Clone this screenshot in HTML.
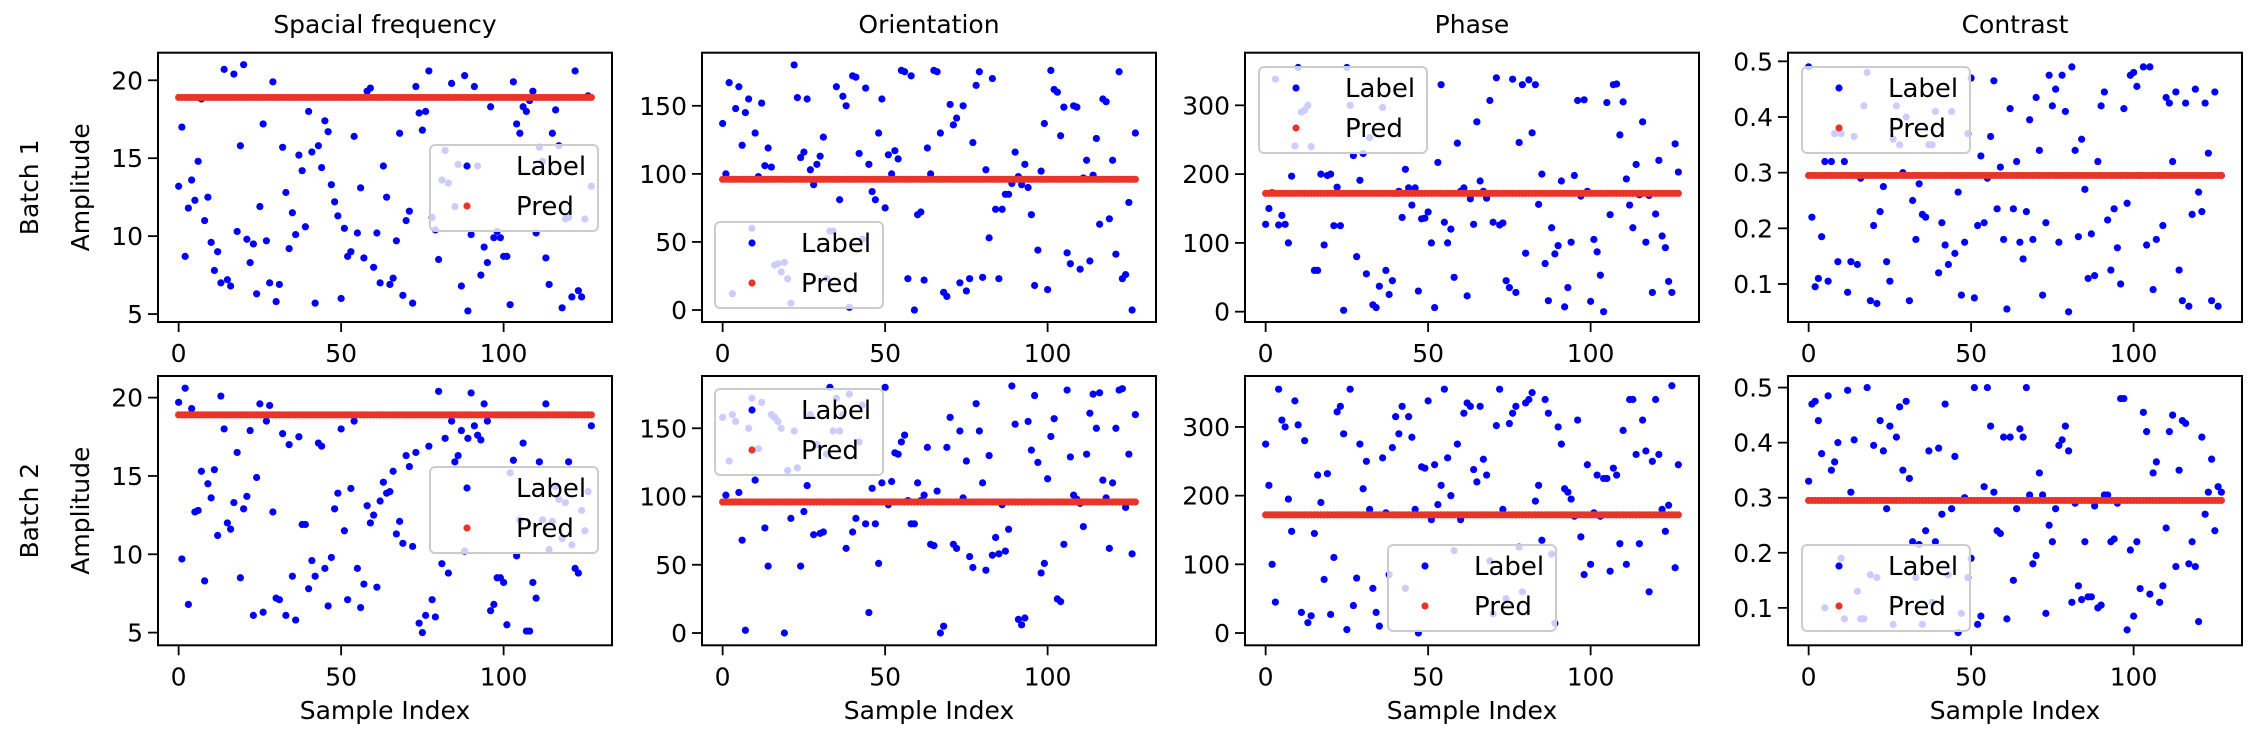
<!DOCTYPE html>
<html><head><meta charset="utf-8">
<style>
html,body{margin:0;padding:0;background:#fff;}
svg{display:block;font-family:"DejaVu Sans","Liberation Sans",sans-serif;}
</style></head>
<body>
<svg id="fig" width="2260" height="742" viewBox="0 0 2260 742" xmlns="http://www.w3.org/2000/svg"></svg>
<script>
const titles = ["Spacial frequency","Orientation","Phase","Contrast"];
const rowLabels = ["Batch 1","Batch 2"];
const xTicks = [0,50,100];
const sfTicks = [5,10,15,20];
const oriTicks = [0,50,100,150];
const phaseTicks = [0,100,200,300];
const conTicks = [0.1,0.2,0.3,0.4,0.5];
const predValues = [18.9,96,172,0.295];

const sf1 = [13.2,17.0,8.7,11.8,13.6,12.3,14.8,18.8,11.0,12.5,9.6,7.8,9.0,7.0,20.7,7.2,6.8,20.4,10.3,15.8,21.0,9.8,8.3,9.5,6.3,11.9,17.2,9.7,7.0,19.9,5.8,6.9,15.7,12.8,9.2,11.5,10.1,15.2,14.2,10.6,18.0,15.4,5.7,15.8,14.4,17.4,16.7,13.3,12.2,11.3,6.0,10.5,8.7,9.0,16.4,10.2,13.1,8.6,19.3,19.5,8.0,10.2,7.0,14.5,12.5,6.9,7.3,9.7,16.6,6.2,11.0,11.6,5.7,19.6,17.9,16.8,18.0,20.6,11.2,10.4,8.5,13.6,15.5,13.4,19.8,11.9,14.6,6.8,20.3,5.2,10.1,19.6,14.5,7.5,9.3,8.3,18.3,9.9,10.3,9.9,8.7,8.7,5.6,19.9,17.2,16.6,18.3,18.0,18.7,19.3,10.2,15.7,14.8,8.6,6.9,16.6,18.1,15.8,5.4,11.1,11.2,6.1,20.6,6.5,6.1,11.1,19.0,13.2];
const ori1 = [137,100,167,12,148,164,121,145,155,60,130,98,152,106,119,105,33,34,28,35,23,5,180,156,112,116,155,103,92,107,113,127,23,58,58,164,81,157,150,2,172,171,115,52,163,107,87,81,130,155,75,114,100,117,111,176,175,23,172,0,70,72,22,119,100,176,175,130,13,10,151,136,141,20,150,14,23,123,165,175,24,103,53,170,74,23,74,85,85,93,116,98,92,107,90,70,18,44,102,137,15,176,162,160,128,149,42,34,150,149,30,97,110,36,99,126,63,155,153,67,110,41,175,23,26,79,0,130];
const phase1 = [127,150,173,338,126,140,127,100,197,241,355,290,293,300,240,60,60,200,97,198,200,125,181,125,2,355,300,227,80,191,230,55,253,10,6,37,297,60,25,45,172,175,137,207,180,155,180,30,135,136,145,100,6,217,330,130,100,120,50,245,175,180,23,164,127,276,190,175,165,307,130,340,126,129,45,35,338,28,246,330,85,337,260,330,156,200,70,16,122,84,96,190,7,35,101,198,307,168,308,175,15,105,87,53,0,304,141,330,331,257,305,193,155,122,214,170,276,101,169,28,142,220,110,93,44,28,244,203];
const con1 = [0.49,0.22,0.095,0.11,0.185,0.32,0.105,0.32,0.37,0.14,0.37,0.32,0.085,0.14,0.365,0.135,0.29,0.42,0.48,0.07,0.205,0.065,0.23,0.275,0.14,0.105,0.36,0.42,0.35,0.30,0.40,0.07,0.25,0.18,0.28,0.225,0.22,0.35,0.35,0.41,0.12,0.21,0.17,0.135,0.41,0.155,0.265,0.08,0.175,0.37,0.47,0.075,0.205,0.33,0.21,0.29,0.365,0.465,0.235,0.31,0.18,0.055,0.415,0.235,0.32,0.175,0.145,0.23,0.395,0.18,0.435,0.34,0.08,0.21,0.475,0.42,0.45,0.175,0.475,0.41,0.05,0.49,0.34,0.185,0.36,0.27,0.11,0.19,0.115,0.32,0.42,0.445,0.215,0.125,0.235,0.165,0.10,0.415,0.245,0.475,0.48,0.455,0.295,0.49,0.17,0.49,0.09,0.18,0.295,0.205,0.435,0.425,0.32,0.445,0.125,0.07,0.425,0.06,0.225,0.45,0.265,0.23,0.425,0.335,0.07,0.445,0.06,0.295];
const sf2 = [19.7,9.7,20.6,6.8,19.3,12.7,12.8,15.3,8.3,14.5,13.6,15.4,11.2,20.1,18.0,12.0,11.6,13.3,16.5,8.5,12.9,13.7,17.9,6.1,14.9,19.6,6.3,18.5,19.5,12.7,7.2,7.1,17.7,6.1,17.0,8.6,5.8,17.5,11.9,11.9,7.8,9.6,8.6,17.1,16.9,9.1,6.7,9.8,12.9,13.9,18.0,11.5,7.1,14.2,18.5,9.1,6.6,8.1,13.1,12.0,12.5,7.9,13.4,14.6,13.9,14.0,15.3,11.3,12.1,10.7,16.3,15.6,10.5,16.5,5.6,5.0,6.1,16.9,7.1,6.0,20.4,9.4,17.4,8.8,18.5,15.9,16.3,17.9,10.2,17.4,20.3,18.2,17.6,17.3,19.6,18.5,6.4,6.8,8.5,8.5,8.2,5.5,15.2,16.0,9.9,12.2,17.1,5.1,5.1,8.2,7.2,15.9,12.2,19.6,10.3,12.1,14.3,13.5,11.0,13.3,15.9,10.6,9.1,8.8,12.8,11.5,14.0,18.2];
const ori2 = [158,101,126,160,155,103,68,2,150,172,112,135,169,77,49,160,158,155,150,0,119,84,148,121,49,89,108,160,72,138,73,74,131,180,148,172,148,160,62,175,74,84,140,167,80,15,106,80,51,110,180,94,111,132,131,140,145,97,80,80,110,97,101,136,65,64,104,0,5,136,158,65,62,148,99,126,56,48,168,148,110,46,130,57,70,58,94,60,76,181,153,10,6,11,155,134,174,125,44,51,113,144,157,25,23,65,178,129,101,98,95,78,131,161,175,150,176,112,99,62,110,150,178,179,92,131,58,160];
const phase2 = [275,215,100,45,355,310,300,195,148,338,303,30,280,15,25,145,230,190,78,232,27,110,322,330,290,5,355,40,80,275,210,250,180,65,30,10,255,175,85,270,315,290,330,65,315,285,180,0,242,240,338,165,245,187,215,355,255,200,120,275,165,320,335,330,238,220,330,253,230,105,28,302,355,180,50,305,320,330,125,60,335,340,350,192,215,135,340,320,115,14,300,275,210,205,195,170,310,140,85,245,100,175,230,170,225,225,90,240,230,130,295,100,340,340,260,130,310,265,60,250,340,260,180,148,186,360,95,245];
const con2 = [0.33,0.47,0.475,0.44,0.38,0.1,0.485,0.35,0.365,0.4,0.19,0.08,0.495,0.31,0.405,0.13,0.08,0.08,0.5,0.16,0.395,0.155,0.44,0.385,0.28,0.43,0.07,0.41,0.465,0.35,0.475,0.335,0.22,0.155,0.215,0.07,0.24,0.385,0.11,0.22,0.39,0.27,0.47,0.16,0.28,0.375,0.055,0.09,0.3,0.155,0.19,0.5,0.07,0.085,0.32,0.5,0.43,0.31,0.24,0.235,0.41,0.08,0.41,0.15,0.28,0.425,0.41,0.5,0.305,0.18,0.195,0.345,0.305,0.09,0.25,0.22,0.28,0.395,0.405,0.43,0.385,0.11,0.29,0.14,0.115,0.22,0.12,0.12,0.285,0.1,0.105,0.305,0.305,0.22,0.225,0.29,0.48,0.48,0.06,0.205,0.085,0.22,0.135,0.455,0.42,0.125,0.345,0.365,0.11,0.14,0.245,0.42,0.45,0.175,0.35,0.44,0.435,0.18,0.22,0.175,0.075,0.41,0.27,0.31,0.37,0.24,0.32,0.31];

const NS = "http://www.w3.org/2000/svg";
const svg = document.getElementById("fig");
function mk(tag, attrs, parent){
  const e = document.createElementNS(NS, tag);
  for (const k in attrs) e.setAttribute(k, attrs[k]);
  (parent||svg).appendChild(e);
  return e;
}
const N = 128;
const colX = [158,702,1245,1788];
const W = 454;
const rowTop = [52.7,376];
const H = 269.3;
const panels = [
 [{data:sf1,ticks:sfTicks,dom:[4.49,21.77],fmt:v=>String(v),leg:[430,145]},
  {data:ori1,ticks:oriTicks,dom:[-8.8,189],fmt:v=>String(v),leg:[715,222]},
  {data:phase1,ticks:phaseTicks,dom:[-15,376.5],fmt:v=>String(v),leg:[1259,67]},
  {data:con1,ticks:conTicks,dom:[0.0317,0.5155],fmt:v=>v.toFixed(1),leg:[1802,67]}],
 [{data:sf2,ticks:sfTicks,dom:[4.19,21.38],fmt:v=>String(v),leg:[430,467]},
  {data:ori2,ticks:oriTicks,dom:[-9,188.3],fmt:v=>String(v),leg:[715,389]},
  {data:phase2,ticks:phaseTicks,dom:[-17.9,374.2],fmt:v=>String(v),leg:[1388,545]},
  {data:con2,ticks:conTicks,dom:[0.032,0.521],fmt:v=>v.toFixed(1),leg:[1802,545]}]
];
const BLUE = "#0000ff", RED = "#e8352a";

for (let r=0;r<2;r++){
  for (let c=0;c<4;c++){
    const p = panels[r][c];
    const x0 = colX[c], y0 = rowTop[r];
    const g = mk("g",{});
    
    
    const xs = v => x0 + (v - (-0.05*(N-1))) / (1.1*(N-1)) * W;
    const ys = v => y0 + H - (v - p.dom[0]) / (p.dom[1]-p.dom[0]) * H;
    // label points
    for (let i=0;i<p.data.length;i++){
      const pt = mk("circle",{cx:xs(i),cy:ys(p.data[i]),r:3.6,fill:BLUE},g);
      
      
    }
    // pred points
    for (let i=0;i<N;i++){
      const pt = mk("circle",{cx:xs(i),cy:ys(predValues[c]),r:3.6,fill:RED},g);
      
      
    }
    // frame
    const fr = mk("rect",{x:x0,y:y0,width:W,height:H,fill:"none",stroke:"#000","stroke-width":2},g);
    
    
    // x ticks
    xTicks.forEach(t=>{
      const X = xs(t);
      mk("line",{x1:X,x2:X,y1:y0+H,y2:y0+H+10,stroke:"#000","stroke-width":1.8},g);
      const tx = mk("text",{x:X,y:y0+H+40,"text-anchor":"middle","font-size":25,fill:"#000"},g);
      tx.textContent = t;
      
      
    });
    // y ticks
    p.ticks.forEach(t=>{
      const Y = ys(t);
      mk("line",{x1:x0-10,x2:x0,y1:Y,y2:Y,stroke:"#000","stroke-width":1.8},g);
      const tx = mk("text",{x:x0-15,y:Y+9,"text-anchor":"end","font-size":25,fill:"#000"},g);
      tx.textContent = p.fmt(t);
      
      
    });
    // legend
    const [lx,ly] = p.leg;
    const lg = mk("g",{},g);
    
    
    mk("rect",{x:lx,y:ly,width:168,height:86,rx:5,fill:"#fff","fill-opacity":0.8,stroke:"#cccccc","stroke-width":2},lg);
    mk("circle",{cx:lx+37,cy:ly+21,r:3.6,fill:BLUE},lg);
    mk("circle",{cx:lx+37,cy:ly+61,r:3.6,fill:RED},lg);
    const t1 = mk("text",{x:lx+86,y:ly+30,"font-size":26,fill:"#000"},lg);
    t1.textContent = "Label";
    
    
    const t2 = mk("text",{x:lx+86,y:ly+70,"font-size":26,fill:"#000"},lg);
    t2.textContent = "Pred";
    
    
    if (r===0){
      const tt = mk("text",{x:x0+W/2,y:33,"text-anchor":"middle","font-size":25,fill:"#000"},g);
      tt.textContent = titles[c];
      
      
    }
    if (r===1){
      const xl = mk("text",{x:x0+W/2,y:719,"text-anchor":"middle","font-size":25,fill:"#000"},g);
      xl.textContent = "Sample Index";
      
      
    }
    if (c===0){
      const cy = y0 + H/2;
      const al = mk("text",{x:0,y:0,"text-anchor":"middle","font-size":25,fill:"#000",transform:`translate(89,${cy}) rotate(-90)`},g);
      al.textContent = "Amplitude";
      
      
      const bl = mk("text",{x:0,y:0,"text-anchor":"middle","font-size":25,fill:"#000",transform:`translate(38,${cy}) rotate(-90)`},g);
      bl.textContent = rowLabels[r];
      
      
    }
  }
}
</script>
</body></html>
